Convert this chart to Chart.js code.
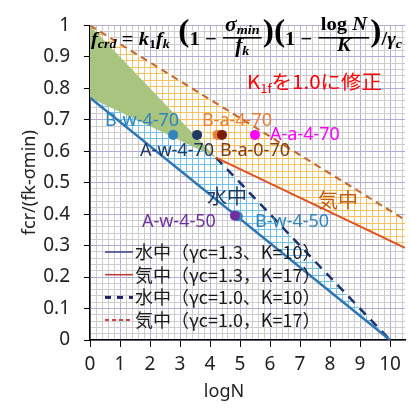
<!DOCTYPE html>
<html>
<head>
<meta charset="utf-8">
<script src="https://cdn.jsdelivr.net/npm/chart.js@4"></script>
<style>
  html, body { margin: 0; padding: 0; background: #fff; }
</style>
</head>
<body>
<canvas id="fatigue" width="411" height="410"></canvas>
<script>
// axis ticks
const xTickLabels = ['0', '1', '2', '3', '4', '5', '6', '7', '8', '9', '10'];
const yTickLabels = ['0', '0.1', '0.2', '0.3', '0.4', '0.5', '0.6', '0.7', '0.8', '0.9', '1'];
const xMinorStep = 0.2;
const yMinorStep = 0.02;

// design lines (logN, fcr/(fk-σmin))
const water13 = [[0, 0.77], [10, 0]];          // 水中 γc=1.3, K=10
const air13 = [[4.2, 0.58], [10.5, 0.293]];    // 気中 γc=1.3, K=17
const water10 = [[4.2, 0.58], [10, 0]];        // 水中 γc=1.0, K=10
const air10 = [[0, 1], [10.5, 0.382]];         // 気中 γc=1.0, K=17

// shaded ranges
const overlapZone = [[0, 1], [4.2, 0.58], [0, 0.77]];
const waterZone = [[0, 1], [10, 0], [0, 0.77]];
const airZone = [[0, 1], [10.5, 0.382], [10.5, 0.293], [0, 0.77]];

// test results
const specimenNames = ['B-w-4-50', 'A-w-4-50', 'B-w-4-70', 'A-w-4-70', 'B-a-4-70', 'B-a-0-70', 'A-a-4-70'];
const specimenX = [4.93, 4.83, 2.77, 3.57, 4.25, 4.4, 5.5];
const specimenY = [0.393, 0.395, 0.652, 0.652, 0.652, 0.652, 0.652];
const specimenColors = ['#2e86c1', '#7030a0', '#2e86c1', '#1f3864', '#ed7d31', '#7b1d0a', '#ff00ff'];

const pts = arr => arr.map(p => ({x: p[0], y: p[1]}));

function range(step, max) {
  const out = [];
  for (let i = 0; i * step <= max + 1e-9; i++) out.push(Math.round(i * step * 1000) / 1000);
  return out;
}
const xGrid = range(xMinorStep, 10.5);
const yGrid = range(yMinorStep, 1);

const isInt = v => Math.abs(v - Math.round(v)) < 1e-6;

// cross-hatch that lines up with the minor grid (6px x 6.5px cells)
function hatch(color) {
  const c = document.createElement('canvas');
  c.width = 6; c.height = 13;
  const g = c.getContext('2d');
  g.fillStyle = '#fff';
  g.fillRect(0, 0, 6, 13);
  g.fillStyle = color;
  g.fillRect(0, 2, 6, 1);
  g.fillRect(0, 8, 6, 1);
  g.fillRect(0, 0, 1, 13);
  return g.createPattern(c, 'repeat');
}

const labels = [
  {t: 'B-w-4-70', x: 0.5, y: 0.698, c: '#2e86c1'},
  {t: 'B-a-4-70', x: 3.73, y: 0.698, c: '#ed7d31'},
  {t: 'A-a-4-70', x: 6.0, y: 0.652, c: '#ff00ff'},
  {t: 'A-w-4-70', x: 1.67, y: 0.6, c: '#1f3864'},
  {t: 'B-a-0-70', x: 4.33, y: 0.6, c: '#843c0c'},
  {t: '水中', x: 3.9, y: 0.455, c: '#1f3864', s: 20, f: '"Noto Sans CJK JP"'},
  {t: '気中', x: 7.6, y: 0.443, c: '#c55a11', s: 20, f: '"Noto Sans CJK JP"'},
  {t: 'A-w-4-50', x: 1.73, y: 0.375, c: '#7030a0'},
  {t: 'B-w-4-50', x: 5.5, y: 0.375, c: '#2e86c1'}
];

const legendRows = [
  {t: '水中（γc=1.3、K=10）', c: '#3a3a8c', w: 1.5, d: []},
  {t: '気中（γc=1.3，K=17）', c: '#c0392b', w: 1.5, d: []},
  {t: '水中（γc=1.0、K=10）', c: '#1f1f70', w: 3, d: [6, 6]},
  {t: '気中（γc=1.0，K=17）', c: '#e04040', w: 2, d: [4, 3]}
];

const FI = s => `italic bold ${s}px "Liberation Serif"`;
const FB = s => `bold ${s}px "Liberation Serif"`;

function runWidth(ctx, items) {
  let w = 0;
  for (const it of items) {
    if (it.num) {
      it.w = Math.max(runWidth(ctx, it.num), runWidth(ctx, it.den)) + 6;
    } else {
      ctx.font = it.f;
      it.w = ctx.measureText(it.t).width;
    }
    w += it.w;
  }
  return w;
}

function drawRun(ctx, items, x, y) {
  for (const it of items) {
    if (it.num) {
      const nw = runWidth(ctx, it.num), dw = runWidth(ctx, it.den);
      drawRun(ctx, it.num, x + (it.w - nw) / 2, it.ny);
      drawRun(ctx, it.den, x + (it.w - dw) / 2, it.dy2);
      ctx.fillRect(x + 1, it.bar, it.w - 2, 1.6);
    } else {
      ctx.font = it.f;
      ctx.fillText(it.t, x, y + (it.dy || 0));
    }
    x += it.w;
  }
}

const formula = [
  {t: 'f', f: FI(19)}, {t: 'crd', f: FI(13), dy: 3}, {t: ' = ', f: FB(19)},
  {t: 'k', f: FI(19)}, {t: '1', f: FB(13), dy: 3}, {t: 'f', f: FI(19)}, {t: 'k', f: FI(13), dy: 3},
  {t: ' (', f: FB(31), dy: -4}, {t: '1', f: FB(19)}, {t: ' − ', f: FB(19)},
  {num: [{t: 'σ', f: FI(20)}, {t: 'min', f: FI(13), dy: 3}], den: [{t: 'f', f: FI(20)}, {t: 'k', f: FI(13), dy: 3}], ny: 31, dy2: 52, bar: 37},
  {t: ')(', f: FB(31), dy: -4}, {t: '1', f: FB(19)}, {t: ' − ', f: FB(19)},
  {num: [{t: 'log ', f: FB(19)}, {t: 'N', f: FI(19)}], den: [{t: 'K', f: FI(19)}], ny: 30, dy2: 51, bar: 37},
  {t: ')', f: FB(31), dy: -4}, {t: '/', f: FB(19)}, {t: 'γ', f: FI(19)}, {t: 'c', f: FI(13), dy: 3}
];

const note = [
  {t: 'K', f: '19px "Noto Sans CJK JP"'}, {t: '1f', f: '12px "Noto Sans CJK JP"', dy: 4},
  {t: 'を1.0に修正', f: '19px "Noto Sans CJK JP"'}
];

function fitRun(ctx, items, left, base, target, color) {
  const w = runWidth(ctx, items);
  ctx.save();
  ctx.fillStyle = color;
  ctx.textBaseline = 'alphabetic';
  ctx.textAlign = 'left';
  ctx.translate(left, 0);
  ctx.scale(target / w, 1);
  drawRun(ctx, items, 0, base);
  ctx.restore();
}

const overlay = {
  id: 'overlay',
  afterDraw(chart) {
    const {ctx, scales: {x, y}} = chart;
    ctx.save();
    ctx.textBaseline = 'middle';
    ctx.textAlign = 'left';
    for (const l of labels) {
      ctx.font = `${l.s || 18}px ${l.f || '"Noto Sans"'}`;
      ctx.fillStyle = l.c;
      ctx.fillText(l.t, x.getPixelForValue(l.x), y.getPixelForValue(l.y));
    }
    // legend inside the plot
    legendRows.forEach((r, i) => {
      const ly = 252 + i * 22.7;
      ctx.strokeStyle = r.c;
      ctx.lineWidth = r.w;
      ctx.setLineDash(r.d);
      ctx.beginPath();
      ctx.moveTo(105, ly);
      ctx.lineTo(133, ly);
      ctx.stroke();
      ctx.setLineDash([]);
      ctx.fillStyle = '#1a1a1a';
      ctx.font = '18px "Noto Sans CJK JP"';
      ctx.fillText(r.t, 135, ly);
    });
    // x axis title
    ctx.fillStyle = '#222';
    ctx.font = '18px "Noto Sans"';
    ctx.textAlign = 'center';
    ctx.fillText('logN', 224, 392);
    ctx.restore();
    fitRun(ctx, formula, 91, 45, 311, '#000');
    fitRun(ctx, note, 247, 89, 135, '#ff0000');
  }
};

const waterHatch = hatch('#74c0ea');
const airHatch = hatch('#f5c266');

const lineSet = (data, color, width, dash, order) => ({
  data: pts(data), borderColor: color, borderWidth: width, borderDash: dash,
  pointRadius: 0, fill: false, order: order
});
const zoneSet = (data, bg, order) => ({
  data: pts(data), backgroundColor: bg, borderWidth: 0, pointRadius: 0,
  fill: 'shape', order: order
});

new Chart(document.getElementById('fatigue'), {
  type: 'line',
  data: {
    datasets: [
      {
        data: specimenX.map((v, i) => ({x: v, y: specimenY[i]})),
        showLine: false, pointRadius: 5, pointBorderWidth: 0,
        pointBackgroundColor: specimenColors, order: 0
      },
      lineSet(water13, '#2e75b6', 2.5, [], 1),
      lineSet(air13, '#e0531f', 2, [], 2),
      lineSet(water10, '#1f3070', 2.5, [9, 7], 3),
      lineSet(air10, '#c8642a', 2, [7, 5], 4),
      zoneSet(overlapZone, '#a9c47e', 5),
      zoneSet(waterZone, waterHatch, 6),
      zoneSet(airZone, airHatch, 7)
    ]
  },
  options: {
    responsive: false,
    animation: false,
    layout: {padding: {top: 15, right: 6, left: 0, bottom: 0}},
    plugins: {legend: {display: false}, tooltip: {enabled: false}},
    elements: {line: {tension: 0}},
    scales: {
      x: {
        type: 'linear', min: 0, max: 10.5,
        afterBuildTicks: s => { s.ticks = xGrid.map(v => ({value: v})); },
        afterFit: s => { s.height = 70; },
        ticks: {
          autoSkip: false, maxRotation: 0, padding: 6,
          font: {family: 'Noto Sans', size: 19}, color: '#222',
          callback: v => isInt(v) ? xTickLabels[Math.round(v)] : ''
        },
        grid: {
          color: c => isInt(c.tick.value) ? '#b4acd8' : '#cdcdcd',
          tickColor: c => isInt(c.tick.value) ? '#000' : 'transparent',
          tickLength: 7, lineWidth: 1
        },
        border: {color: '#000', width: 1.5}
      },
      y: {
        type: 'linear', min: 0, max: 1,
        afterBuildTicks: s => { s.ticks = yGrid.map(v => ({value: v})); },
        afterFit: s => { s.width = 90; },
        ticks: {
          autoSkip: false, padding: 14,
          font: {family: 'Noto Sans', size: 19}, color: '#222',
          callback: v => isInt(v * 10) ? yTickLabels[Math.round(v * 10)] : ''
        },
        grid: {
          color: c => isInt(c.tick.value * 10) ? '#b4acd8' : '#cdcdcd',
          tickColor: c => isInt(c.tick.value * 10) ? '#000' : 'transparent',
          tickLength: 6, lineWidth: 1
        },
        border: {color: '#000', width: 1.5},
        title: {
          display: true, text: 'fcr/(fk-σmin)', color: '#222',
          font: {family: 'Noto Sans', size: 18}, padding: {top: 19, bottom: 0}
        }
      }
    }
  },
  plugins: [overlay]
});
</script>
</body>
</html>
